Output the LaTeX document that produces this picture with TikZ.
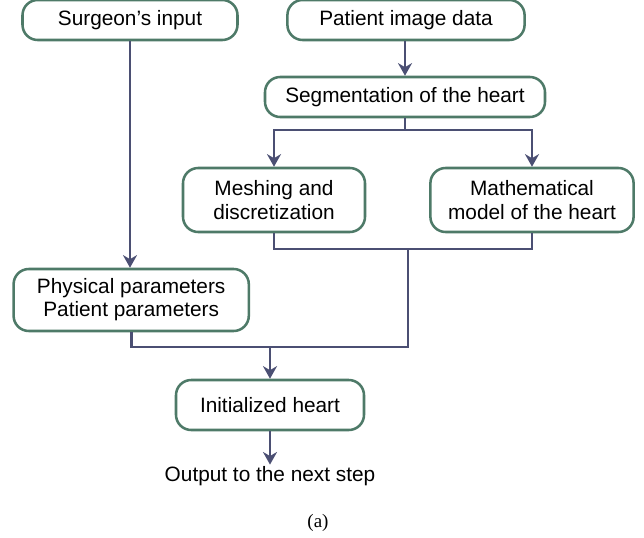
\documentclass[tikz,border=0pt]{standalone}
\usepackage{fontspec}
\setmainfont{Liberation Sans}
\newfontfamily\capfont{Liberation Serif}
\usetikzlibrary{arrows.meta,positioning}
\definecolor{boxgreen}{RGB}{78,122,104}
\definecolor{flowcol}{RGB}{75,79,115}

\begin{document}
\begin{tikzpicture}[>={Stealth[length=9pt,width=10pt]},
  font=\fontsize{14.8}{16.5}\selectfont,
  box/.style={draw=boxgreen, fill=white, line width=1.8pt, rounded corners=0.38cm,
    align=center, inner sep=0pt},
  flow/.style={draw=flowcol, line width=1.9pt}]
  \useasboundingbox (0,0) rectangle (16.1,-13.45);

  % Inputs
  \node[box, minimum width=5.375cm, minimum height=1.0cm] (surg) at (3.25,-0.5) {Surgeon’s input};
  \node[box, minimum width=5.93cm, minimum height=1.0cm] (pat) at (10.15,-0.5) {Patient image data};
  \node[box, minimum width=7.0cm, minimum height=1.0cm] (seg) at (10.125,-2.425) {Segmentation of the heart};

  % Models
  \node[box, minimum width=4.55cm, minimum height=1.6cm] (mesh) at (6.85,-5.0) {Meshing and\\discretization};
  \node[box, minimum width=5.08cm, minimum height=1.6cm] (math) at (13.3,-5.0) {Mathematical\\model of the heart};

  % Parameters and result
  \node[box, minimum width=5.88cm, minimum height=1.55cm] (phys) at (3.28,-7.5) {Physical parameters\\Patient parameters};
  \node[box, minimum width=4.7cm, minimum height=1.25cm] (init) at (6.75,-10.125) {Initialized heart};
  \node[inner sep=1pt] (out) at (6.75,-11.9) {Output to the next step};
  \node[font=\capfont\fontsize{13.5}{15}\selectfont] (cap) at (7.95,-13.08) {(a)};

  % Junctions
  \coordinate (split) at (10.125,-3.25);
  \coordinate (merge) at (10.2,-6.225);
  \coordinate (join) at (10.2,-8.675);

  \draw[flow,->] (surg.south) -- (surg.south |- phys.north);
  \draw[flow,->] (seg.north |- pat.south) -- (seg);
  \draw[flow,->] (seg.south) -- (split) -| (mesh.north);
  \draw[flow,->] (split) -| (math.north);
  \draw[flow] (mesh.south) |- (merge) -| (math.south);
  \draw[flow] (merge) -- (join) -| (phys.south);
  \draw[flow,->] (init.north |- join) -- (init);
  \draw[flow,->] (init) -- (out);
\end{tikzpicture}
\end{document}
